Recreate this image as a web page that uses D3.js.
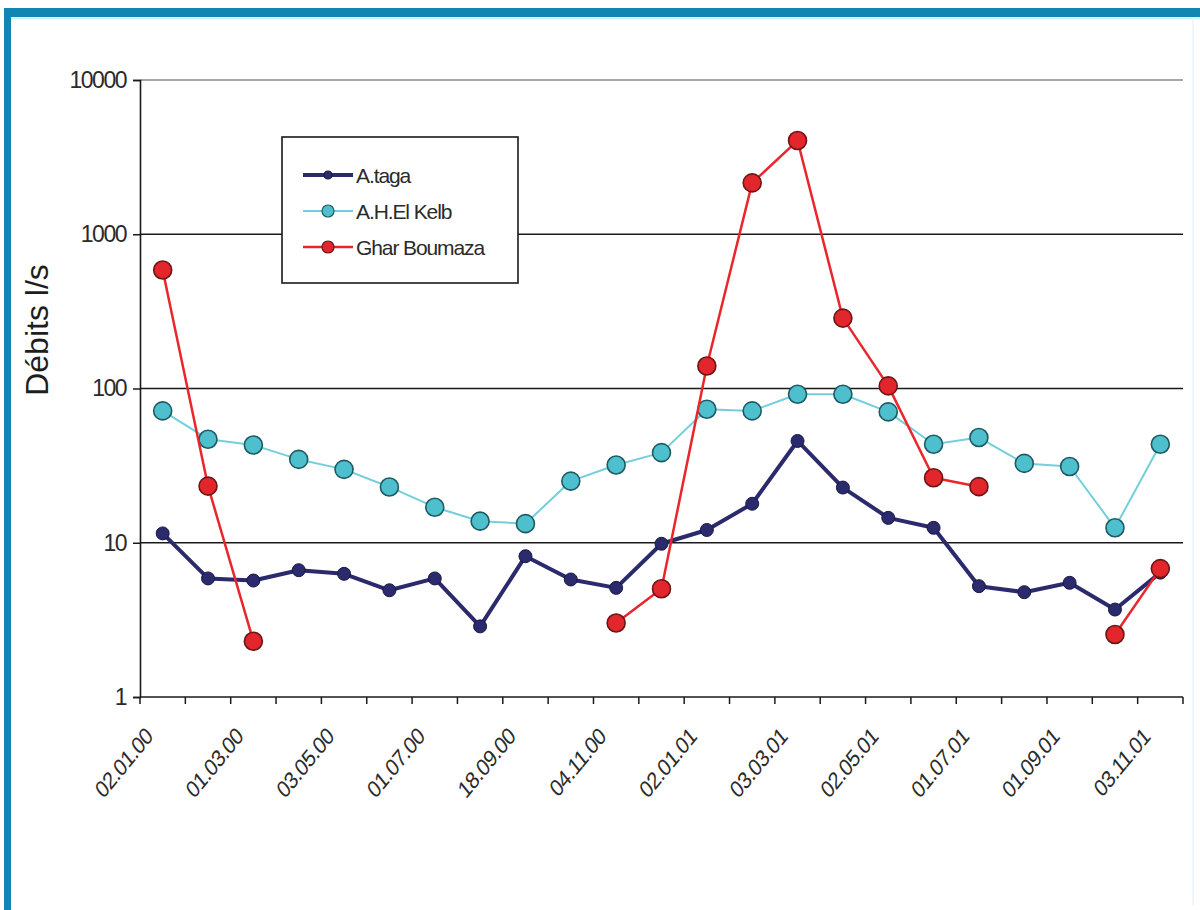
<!DOCTYPE html>
<html>
<head>
<meta charset="utf-8">
<script src="https://cdn.jsdelivr.net/npm/d3@7"></script>
<style>
  html, body { margin: 0; padding: 0; background: #fff; }
  svg { display: block; }
  text { font-family: "Liberation Sans", Arial, sans-serif; }
</style>
</head>
<body>
<svg id="chart" width="1200" height="910"></svg>
<script>
// ---- data ----
const categories = ["02.01.00","c1","01.03.00","c3","03.05.00","c5","01.07.00","c7","18.09.00","c9","04.11.00","c11",
                    "02.01.01","c13","03.03.01","c15","02.05.01","c17","01.07.01","c19","01.09.01","c21","03.11.01"];
const tickLabels = ["02.01.00","01.03.00","03.05.00","01.07.00","18.09.00","04.11.00",
                    "02.01.01","03.03.01","02.05.01","01.07.01","01.09.01","03.11.01"];
const yTicks = [1, 10, 100, 1000, 10000];
const seriesNames = ["A.taga", "A.H.El Kelb", "Ghar Boumaza"];
const ataga = [11.5, 5.87, 5.69, 6.64, 6.29, 4.92, 5.87, 2.87, 8.18, 5.78, 5.10, 9.85,
               12.1, 17.9, 45.7, 22.8, 14.5, 12.5, 5.23, 4.78, 5.50, 3.69, 6.4];
const kelb = [71.6, 46.9, 43.0, 34.7, 29.9, 23.0, 17.0, 13.8, 13.3, 25.1, 31.9, 38.4,
              73.4, 71.6, 91.8, 91.8, 70.5, 43.5, 48.1, 32.7, 31.2, 12.5, 43.5];
const ghar = [586, 23.3, 2.3, null, null, null, null, null, null, null, 3.02, 5.03,
              140, 2154, 4050, 286, 104, 26.4, 23.1, null, null, 2.54, 6.8];

// ---- layout ----
const svg = d3.select("#chart");
const L = 140, R = 1183, T = 80, B = 697;

// frame
svg.append("rect").attr("x", 4).attr("y", 8).attr("width", 1196).attr("height", 9).attr("fill", "#1286b3");
svg.append("rect").attr("x", 4).attr("y", 8).attr("width", 7).attr("height", 902).attr("fill", "#1286b3");
svg.append("line").attr("x1", 11).attr("x2", 1200).attr("y1", 18.5).attr("y2", 18.5).attr("stroke", "#c8f2f8").attr("stroke-width", 1.5);
svg.append("line").attr("x1", 1193).attr("x2", 1193).attr("y1", 17).attr("y2", 905).attr("stroke", "#eef8fa").attr("stroke-width", 2);

const x = d3.scaleBand().domain(d3.range(categories.length)).range([L, R]);
const cx = i => x(i) + x.bandwidth() / 2;
const y = d3.scaleLog().domain([1, 10000]).range([B, T]);

// gridlines
svg.append("g").selectAll("line").data(yTicks.filter(v => v > 1)).join("line")
  .attr("x1", L).attr("x2", R)
  .attr("y1", d => y(d)).attr("y2", d => y(d))
  .attr("stroke", d => d === 10000 ? "#8a8a8a" : "#1a1a1a")
  .attr("stroke-width", 1.6);

// y axis
const yAxis = d3.axisLeft(y).tickValues(yTicks).tickFormat(d3.format("d")).tickSize(7).tickPadding(7);
const gy = svg.append("g").attr("transform", `translate(${L},0)`).call(yAxis);
gy.select(".domain").attr("stroke", "#1a1a1a").attr("stroke-width", 1.6);
gy.selectAll(".tick line").attr("stroke", "#1a1a1a").attr("stroke-width", 1.5);
gy.selectAll(".tick text").attr("font-size", 23).attr("fill", "#2a2a2a")
  .attr("font-family", "Liberation Sans, Arial, sans-serif").attr("letter-spacing", -1.5);

// x axis (ticks at category boundaries)
svg.append("line").attr("x1", L).attr("x2", R).attr("y1", B).attr("y2", B)
  .attr("stroke", "#1a1a1a").attr("stroke-width", 1.6);
const bounds = d3.range(categories.length + 1).map(i => i < categories.length ? x(i) : R);
svg.append("g").selectAll("line").data(bounds).join("line")
  .attr("x1", d => d).attr("x2", d => d).attr("y1", B).attr("y2", B + 7)
  .attr("stroke", "#1a1a1a").attr("stroke-width", 1.5);

// x labels (slightly condensed, like the reference)
svg.append("g").selectAll("text").data(tickLabels).join("text")
  .attr("transform", (d) => {
    const i = categories.indexOf(d);
    return `translate(${cx(i) - 9},${B + 41}) scale(0.82,1) rotate(-45)`;
  })
  .attr("text-anchor", "end")
  .attr("font-size", 24)
  .attr("letter-spacing", -0.8)
  .attr("fill", "#2a2a2a")
  .text(d => d);

// y title
svg.append("text")
  .attr("transform", `translate(48,330) rotate(-90)`)
  .attr("text-anchor", "middle")
  .attr("font-size", 32)
  .attr("fill", "#1e1e1e")
  .text("Débits l/s");

// series
const styles = [
  { data: ataga, line: "#2b2a6c", lw: 4, r: 6.5, fill: "#2b2a6c", stroke: "#191945", sw: 1 },
  { data: kelb, line: "#72cfdb", lw: 2, r: 9, fill: "#4ec0cd", stroke: "#1d5a63", sw: 1.6 },
  { data: ghar, line: "#e8262c", lw: 2.5, r: 9, fill: "#e2262b", stroke: "#6b1616", sw: 1.6 }
];
const lineGen = d3.line().defined(d => d != null).x((d, i) => cx(i)).y(d => y(d));

styles.forEach(s => {
  svg.append("path").datum(s.data)
    .attr("d", lineGen)
    .attr("fill", "none").attr("stroke", s.line).attr("stroke-width", s.lw)
    .attr("stroke-linejoin", "round");
  svg.append("g").selectAll("circle")
    .data(s.data.map((v, i) => ({ v, i })).filter(d => d.v != null))
    .join("circle")
    .attr("cx", d => cx(d.i)).attr("cy", d => y(d.v)).attr("r", s.r)
    .attr("fill", s.fill).attr("stroke", s.stroke).attr("stroke-width", s.sw);
});

// legend
const lg = svg.append("g");
lg.append("rect").attr("x", 282).attr("y", 137).attr("width", 236).attr("height", 146)
  .attr("fill", "#fff").attr("stroke", "#1a1a1a").attr("stroke-width", 1.6);
const legendY = [175, 211, 247];
styles.forEach((s, k) => {
  const ly = legendY[k];
  lg.append("line").attr("x1", 303).attr("x2", 353).attr("y1", ly).attr("y2", ly)
    .attr("stroke", s.line).attr("stroke-width", s.lw);
  lg.append("circle").attr("cx", 328).attr("cy", ly).attr("r", k === 0 ? 4 : 6)
    .attr("fill", s.fill).attr("stroke", s.stroke).attr("stroke-width", 1.2);
  lg.append("text").attr("x", 356).attr("y", ly).attr("dy", "0.36em")
    .attr("font-size", 21).attr("letter-spacing", -1.1).attr("fill", "#2a2a2a")
    .text(seriesNames[k]);
});
</script>
</body>
</html>
